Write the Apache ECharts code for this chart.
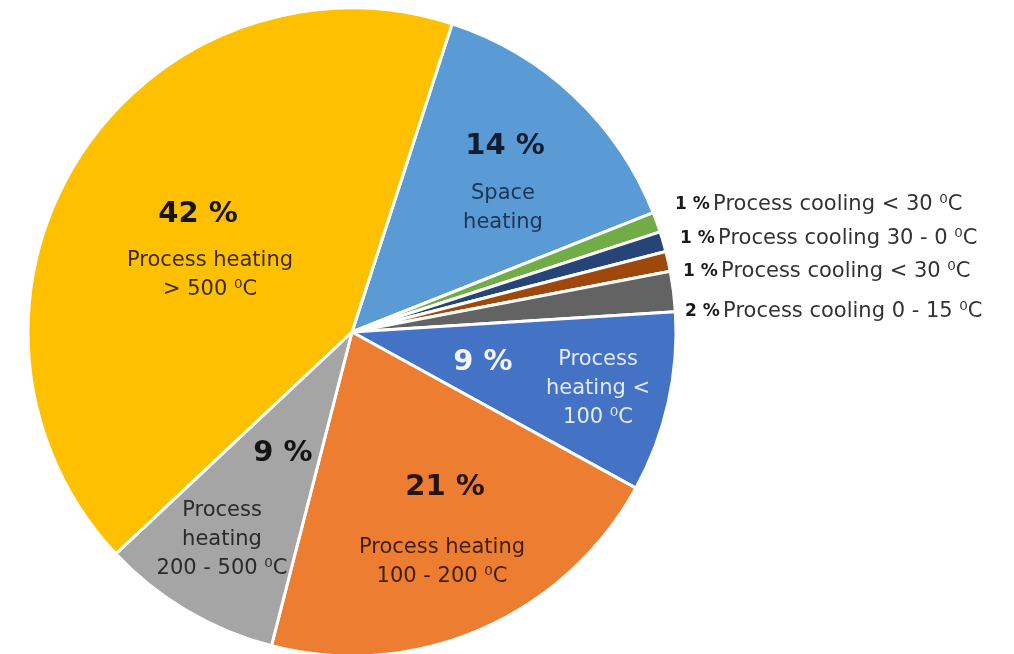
<!DOCTYPE html>
<html>
<head>
<meta charset="utf-8">
<script src="https://cdn.jsdelivr.net/npm/echarts@6/dist/echarts.min.js"></script>
<style>
  html, body { margin: 0; padding: 0; background: #ffffff; }
  #chart { width: 1014px; height: 654px; }
</style>
</head>
<body>
<div id="chart"></div>
<script>
// Energy demand shares by end use (percent)
const categories = [
  'Space heating',
  'Process cooling < 30 \u2070C',
  'Process cooling 30 - 0 \u2070C',
  'Process cooling < 30 \u2070C',
  'Process cooling 0 - 15 \u2070C',
  'Process heating < 100 \u2070C',
  'Process heating 100 - 200 \u2070C',
  'Process heating 200 - 500 \u2070C',
  'Process heating > 500 \u2070C'
];
const shares = [14, 1, 1, 1, 2, 9, 21, 9, 42];
// Wrapped names shown inside the larger slices
const insideNames = [
  'Space\nheating',
  null, null, null, null,
  'Process\nheating <\n100 \u2070C',
  'Process heating\n100 - 200 \u2070C',
  'Process\nheating\n200 - 500 \u2070C',
  'Process heating\n> 500 \u2070C'
];

// Styling
const sliceColors = ['#5B9BD5', '#70AD47', '#264478', '#9E480E', '#636363', '#4472C4', '#ED7D31', '#A5A5A5', '#FFC000'];
const pctColors   = ['#101c30', '#1a1a1a', '#1a1a1a', '#1a1a1a', '#1a1a1a', '#f2f5fb', '#24140a', '#141414', '#181410'];
const nameColors  = ['#1d3452', '#333333', '#333333', '#333333', '#333333', '#e3eaf6', '#3f1e08', '#2a2a2a', '#3a2c05'];
const FONT = 'DejaVu Sans';

// Label anchor points (pixel centres of each text block)
const pctAnchor = [[505, 146], [675, 205], [680, 239], [683, 272], [685, 312], [483, 362], [445, 487], [283, 453], [198, 214]];
const nameAnchor = [[503, 208], null, null, null, null, [598, 389], [442, 562], [222, 540], [210, 275]];
const smallSlice = i => shares[i] <= 2;

const sliceData = categories.map((name, i) => ({
  name: name,
  value: shares[i],
  itemStyle: { color: sliceColors[i] },
  label: {
    show: true,
    formatter: smallSlice(i)
      ? '{b|' + shares[i] + ' %} {n|' + name + '}'
      : '{p|' + shares[i] + ' %}',
    rich: {
      p: { fontFamily: FONT, fontWeight: 'bold', fontSize: 29, color: pctColors[i] },
      b: { fontFamily: FONT, fontWeight: 'bold', fontSize: 17, color: '#1a1a1a' },
      n: { fontFamily: FONT, fontSize: 21, color: '#333333' }
    }
  }
}));

const nameData = categories.map((name, i) => ({
  name: name,
  value: shares[i],
  itemStyle: { color: 'rgba(0,0,0,0)' },
  label: {
    show: insideNames[i] !== null,
    formatter: insideNames[i] || '',
    fontFamily: FONT,
    fontSize: 21,
    lineHeight: 29,
    align: 'center',
    color: nameColors[i]
  }
}));

const common = {
  type: 'pie',
  center: [352, 332],
  radius: [0, 324],
  startAngle: 72,
  clockwise: true,
  animation: false,
  labelLine: { show: false }
};

const chart = echarts.init(document.getElementById('chart'), null, { renderer: 'canvas' });
chart.setOption({
  backgroundColor: '#ffffff',
  series: [
    Object.assign({}, common, {
      name: 'share',
      itemStyle: { borderColor: '#ffffff', borderWidth: 3 },
      label: { position: 'inside' },
      labelLayout: function (p) {
        const a = pctAnchor[p.dataIndex];
        return smallSlice(p.dataIndex)
          ? { x: a[0], y: a[1], align: 'left', verticalAlign: 'middle' }
          : { x: a[0], y: a[1], align: 'center', verticalAlign: 'middle' };
      },
      data: sliceData
    }),
    Object.assign({}, common, {
      name: 'names',
      silent: true,
      itemStyle: { borderWidth: 0 },
      label: { position: 'inside' },
      labelLayout: function (p) {
        const a = nameAnchor[p.dataIndex];
        if (!a) return {};
        return { x: a[0], y: a[1], align: 'center', verticalAlign: 'middle' };
      },
      data: nameData
    })
  ]
});
</script>
</body>
</html>
